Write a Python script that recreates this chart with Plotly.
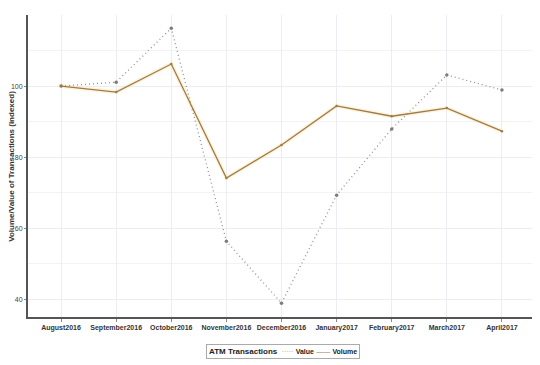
import plotly.graph_objects as go

months = ["August2016", "September2016", "October2016", "November2016", "December2016",
          "January2017", "February2017", "March2017", "April2017"]
value_idx = [100, 101.1, 116.3, 56.3, 38.9, 69.3, 87.9, 103.1, 98.9]
volume_idx = [100, 98.3, 106.2, 74.1, 83.4, 94.4, 91.5, 93.8, 87.3]
y_ticks = [40, 60, 80, 100]

VAL_COLOR = "#9a8f8a"
VOL_COLOR = "#9c7b4c"

fig = go.Figure()
# soft glow under lines
fig.add_trace(go.Scatter(x=months, y=volume_idx, mode="lines",
                         line=dict(color="rgba(255,225,160,0.4)", width=4),
                         showlegend=False, hoverinfo="skip"))
fig.add_trace(go.Scatter(x=months, y=value_idx, name="Value", mode="lines+markers",
                         line=dict(color=VAL_COLOR, width=1.3, dash="1px,3px"),
                         marker=dict(color="#857a72", size=3.5),
                         showlegend=False))
fig.add_trace(go.Scatter(x=months, y=volume_idx, name="Volume", mode="lines+markers",
                         line=dict(color=VOL_COLOR, width=1.3),
                         marker=dict(color=VOL_COLOR, size=2.5),
                         showlegend=False))

legend_text = ("<b>ATM Transactions</b>  "
               f"<span style='color:{VAL_COLOR};font-size:7px'>·····</span> "
               "<span style='font-size:7px'><b>Value</b></span> "
               f"<span style='color:{VOL_COLOR};font-size:7px'>——</span> "
               "<span style='font-size:7px'><b>Volume</b></span>")

fig.add_annotation(text=legend_text, xref="paper", yref="paper",
                   x=0.502, y=-0.1126, xanchor="center", yanchor="middle",
                   showarrow=False, font=dict(size=8, color="#222222"),
                   bordercolor="#aaaaaa", borderwidth=1, borderpad=2, bgcolor="white")

fig.add_annotation(text="<b>Volume/Value of Transactions (indexed)</b>",
                   xref="paper", yref="paper", x=-0.034, y=0.5,
                   xanchor="center", yanchor="middle", textangle=-90,
                   showarrow=False, font=dict(size=8, color="#333333"))

fig.update_layout(
    width=540, height=365,
    margin=dict(l=20, r=13, t=7, b=56, autoexpand=False),
    paper_bgcolor="white", plot_bgcolor="white",
    font=dict(family="Liberation Sans, Arial", color="#444444", size=7),
    showlegend=False,
    xaxis=dict(type="category", range=[-0.6, 8.6], automargin=False,
               showgrid=True, gridcolor="#ececf2", gridwidth=1,
               showline=True, linecolor="#555555", linewidth=2,
               ticks="outside", ticklen=3, tickcolor="#888888",
               tickfont=dict(size=7, color="#333333", weight="bold"), zeroline=False),
    yaxis=dict(range=[35, 120], tickvals=y_ticks, automargin=False,
               minor=dict(tickvals=[50, 70, 90, 110], showgrid=True, gridcolor="#f3f3f7"),
               showgrid=True, gridcolor="#ececf2", gridwidth=1,
               showline=True, linecolor="#555555", linewidth=2,
               ticks="outside", ticklen=2, tickcolor="#888888",
               tickfont=dict(size=7, color="#444444"), zeroline=False),
)
fig.write_html("out.html")
